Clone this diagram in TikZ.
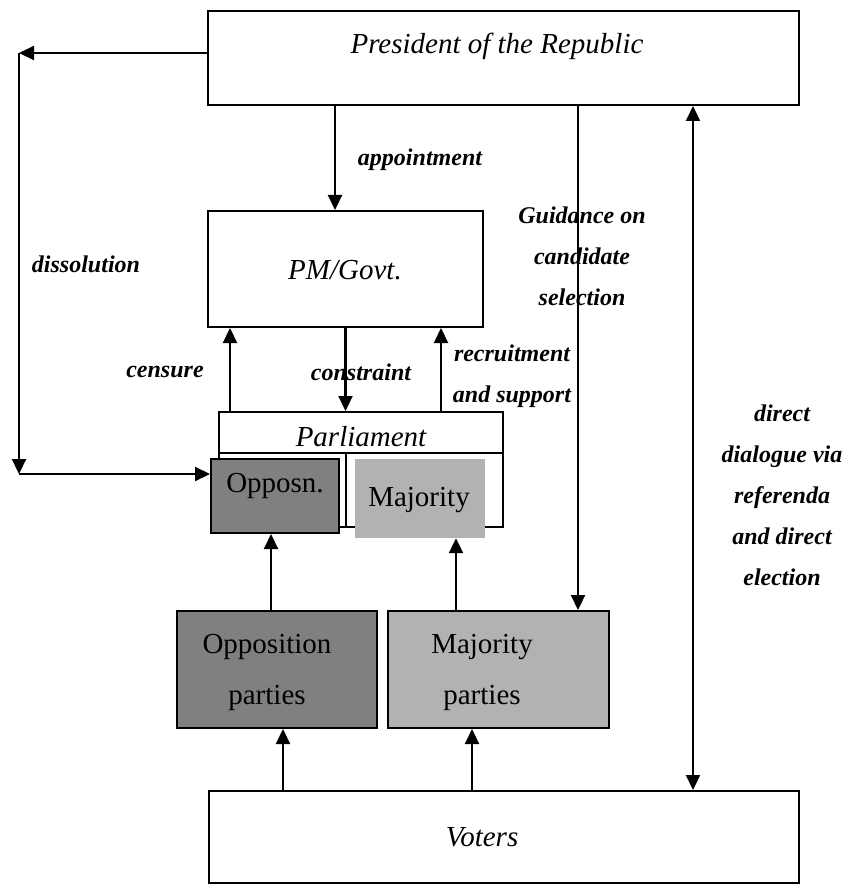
\documentclass[tikz,border=0pt]{standalone}
\usepackage{fontspec}
\setmainfont{Liberation Serif}
\usetikzlibrary{arrows.meta}
\definecolor{darkbox}{gray}{0.5}
\definecolor{lightbox}{gray}{0.7}
\tikzset{
  box/.style={draw,line width=2pt,inner sep=0pt},
  plainbox/.style={inner sep=0pt},
  txt/.style={font=\fontsize{29}{51}\selectfont,align=center,inner sep=0pt},
  lab/.style={font=\fontsize{24}{41}\selectfont\bfseries\itshape,align=center,inner sep=0pt},
  arr/.style={line width=2.2pt,-{Triangle[length=15pt,width=14pt]}},
  arrboth/.style={line width=2.2pt,{Triangle[length=15pt,width=14pt]}-{Triangle[length=15pt,width=14pt]}},
}
\begin{document}
\begin{tikzpicture}[x=1pt,y=-1pt]
\useasboundingbox (0,0) rectangle (845,885);

\node[box,minimum width=591pt,minimum height=94pt] (pres) at (503.5,58) {}; %president
\node[txt] (presT) at (497,46) {\itshape President of the Republic};

\node[box,minimum width=275pt,minimum height=116pt] (pm) at (345.5,269) {}; %govt
\node[txt] (pmT) at (345,270) {\itshape PM/Govt.};

\node[box,minimum width=284pt,minimum height=115pt] (parl) at (361,469.5) {}; %parliament
\draw[line width=2pt] (219,453) -- (503,453);
\draw[line width=2pt] (346,453) -- (346,527);
\node[txt] (parlT) at (361,437) {\itshape Parliament};

\node[box,fill=darkbox,minimum width=128pt,minimum height=74pt] (opp) at (275,496) {};
\node[txt] (oppT) at (275,486) {Opposn.};
\node[plainbox,fill=lightbox,minimum width=130pt,minimum height=79pt] (maj) at (420,498.5) {};
\node[txt] (majT) at (419,500) {Majority};

\node[box,fill=darkbox,minimum width=200pt,minimum height=117pt] (opppar) at (277,669.5) {}; %parties
\node[txt] (oppparT) at (267,672) {Opposition\\parties};
\node[box,fill=lightbox,minimum width=221pt,minimum height=117pt] (majpar) at (498.5,669.5) {};
\node[txt] (majparT) at (482,672) {Majority\\parties};

\node[box,minimum width=590pt,minimum height=92pt] (voters) at (504,837) {}; %voters
\node[txt] (votersT) at (482,837) {\itshape Voters};

% labels
\node[lab] (lblAppoint) at (420,160) {appointment};
\node[lab] (lblDissol) at (86,264) {dissolution};
\node[lab] (lblCensure) at (165,372) {censure};
\node[lab] (lblConstr) at (361,372) {constraint};
\node[lab] (lblRecruit) at (512,376.5) {recruitment\\and support};
\node[lab] (lblGuide) at (582,256.5) {Guidance on\\candidate\\selection};
\node[lab] (lblDirect) at (782,495.5) {direct\\dialogue via\\referenda\\and direct\\election};

% connectors
\coordinate (dtop) at (19,53);
\coordinate (dbot) at (19,474);
\draw[arr] (pres.west |- dtop) -- (dtop);
\draw[arr] (dtop) -- (dbot);
\draw[arr] (dbot) -- (opp.west |- dbot);

\draw[arr] ([xshift=-10.5pt]pm.north |- pres.south) -- ([xshift=-10.5pt]pm.north);
\draw[arr] ([xshift=-131pt]parl.north) -- ([xshift=-131pt]parl.north |- pm.south);
\draw[arr] (pm.south) -- (pm.south |- parl.north);
\draw[arr] ([xshift=80pt]parl.north) -- ([xshift=80pt]parl.north |- pm.south);
\draw[arr] ([xshift=79.5pt]majpar.north |- pres.south) -- ([xshift=79.5pt]majpar.north);
\draw[arrboth] ([xshift=189pt]voters.north |- pres.south) -- ([xshift=189pt]voters.north);

\draw[arr] ([xshift=-4pt]opp.south |- opppar.north) -- ([xshift=-4pt]opp.south);
\draw[arr] ([xshift=36pt]maj.south |- majpar.north) -- ([xshift=36pt]maj.south);
\draw[arr] ([xshift=6pt]opppar.south |- voters.north) -- ([xshift=6pt]opppar.south);
\draw[arr] ([xshift=-26.5pt]majpar.south |- voters.north) -- ([xshift=-26.5pt]majpar.south);
\end{tikzpicture}
\end{document}
